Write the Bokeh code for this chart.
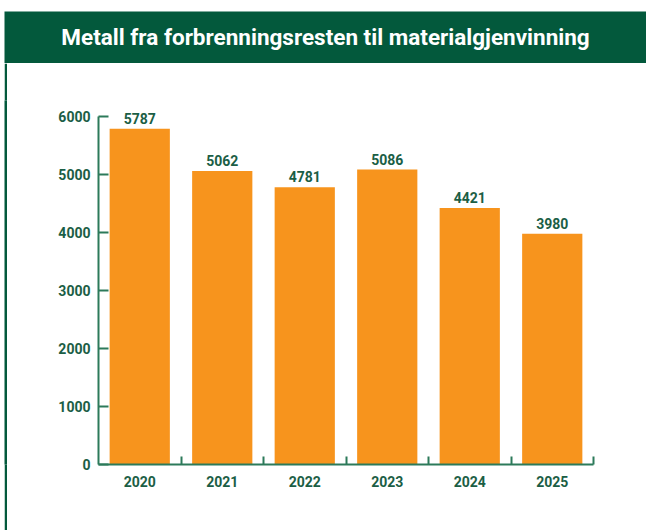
from bokeh.plotting import figure
from bokeh.layouts import column, row
from bokeh.models import Range1d, FixedTicker, Label, ColumnDataSource, Spacer
from bokeh.embed import file_html
from bokeh.resources import INLINE
from bokeh.core.properties import value

title_text = "Metall fra forbrenningsresten til materialgjenvinning"
years = ["2020", "2021", "2022", "2023", "2024", "2025"]
tonnes = [5787, 5062, 4781, 5086, 4421, 3980]
y_ticks = [0, 1000, 2000, 3000, 4000, 5000, 6000]

GREEN_HDR = "#03593C"
GREEN_TXT = "#1B5E45"
AXIS = "#2C7A5A"
ORANGE = "#F7941D"
FONT = "Roboto"

W = 646

# header band
hdr = figure(width=W, height=63, toolbar_location=None, output_backend="svg",
             x_range=Range1d(0, 1), y_range=Range1d(0, 1),
             x_axis_location=None, y_axis_location=None,
             min_border=0, min_border_top=11, min_border_left=4)
hdr.grid.visible = False
hdr.outline_line_color = None
hdr.background_fill_color = GREEN_HDR
hdr.border_fill_color = "white"
hdr.add_layout(Label(x=0.5, y=0.5, text=title_text, text_align="center",
                     text_baseline="middle", text_color="white", text_font=FONT,
                     text_font_style="bold", text_font_size="22.5px", y_offset=1))

# left strip
strip = figure(width=3, height=467, toolbar_location=None, output_backend="svg",
               x_range=Range1d(0, 1), y_range=Range1d(0, 1),
               x_axis_location=None, y_axis_location=None, min_border=0)
strip.grid.visible = False
strip.outline_line_color = None
strip.background_fill_color = GREEN_HDR
strip.border_fill_color = GREEN_HDR

# chart
n = len(years)
centers = [i + 0.5 for i in range(n)]
bounds = [i + 1 for i in range(n)]
src = ColumnDataSource(dict(x=centers, top=tonnes, label=[str(v) for v in tonnes]))

p = figure(width=W - 7, height=467, toolbar_location=None, output_backend="svg",
           x_range=Range1d(0, n), y_range=Range1d(0, 6276),
           min_border_left=91, min_border_right=53, min_border_top=37, min_border_bottom=66)
p.grid.visible = False
p.outline_line_color = None

p.vbar(x="x", top="top", width=0.73, source=src, fill_color=ORANGE, line_color=None)
p.text(x="x", y="top", text="label", source=src, text_align="center", text_baseline="bottom",
       y_offset=-5, text_font=value(FONT), text_font_style="bold", text_font_size="14px",
       text_color=GREEN_TXT)

xa = p.xaxis[0]
xa.ticker = FixedTicker(ticks=centers, minor_ticks=bounds)
xa.major_label_overrides = {c: y for c, y in zip(centers, years)}
xa.major_tick_line_color = None
xa.minor_tick_in = 8
xa.minor_tick_out = 0
xa.minor_tick_line_color = AXIS
xa.minor_tick_line_width = 2
xa.axis_line_color = AXIS
xa.axis_line_width = 2
xa.major_label_standoff = 5

ya = p.yaxis[0]
ya.ticker = FixedTicker(ticks=y_ticks, minor_ticks=[])
ya.bounds = (0, 6000)
ya.major_tick_in = 10
ya.major_tick_out = 0
ya.major_tick_line_color = AXIS
ya.major_tick_line_width = 2
ya.minor_tick_line_color = None
ya.axis_line_color = AXIS
ya.axis_line_width = 2
ya.major_label_standoff = 8

for ax in (xa, ya):
    ax.major_label_text_font = FONT
    ax.major_label_text_font_style = "bold"
    ax.major_label_text_font_size = "14px"
    ax.major_label_text_color = GREEN_TXT

layout = column(hdr, row(Spacer(width=4, height=467), strip, p))
open("out.html", "w").write(file_html(layout, INLINE))
